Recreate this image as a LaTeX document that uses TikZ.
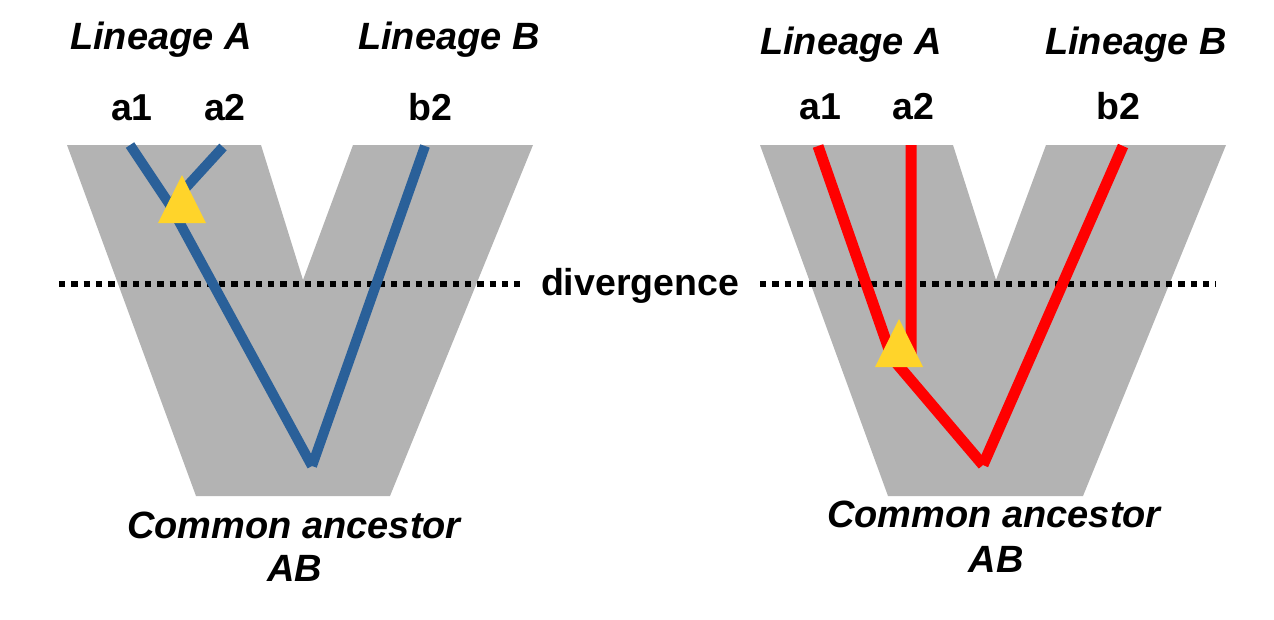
\documentclass[tikz,border=0pt]{standalone}
\usepackage{fontspec}
\setmainfont{Liberation Sans}
\usepackage{tikz}
\usepackage{xcolor}
\usetikzlibrary{calc, positioning}

\definecolor{vgray}{HTML}{B3B3B3}
\definecolor{lineblue}{HTML}{2A6099}
\definecolor{linered}{HTML}{FF0000}
\definecolor{mutyellow}{HTML}{FFD42A}

\tikzset{
    title/.style={inner sep=0pt, anchor=base, font=\fontsize{38}{42}\selectfont\bfseries\itshape},
    tip/.style={inner sep=0pt, anchor=base, font=\fontsize{37.5}{42}\selectfont\bfseries},
    branch/.style={line width=#1, line cap=butt, line join=miter},
    divline/.style={line width=5.5pt, dash pattern=on 6.3pt off 6pt}
}

\begin{document}
\begin{tikzpicture}[x=1pt, y=-1pt]
                        \useasboundingbox (0, 0) rectangle (1274, 619);

                        % left V
                        \fill[vgray] (67, 145) -- (261, 145) -- (303, 280) -- (353, 145) -- (533, 145) -- (390, 496) -- (196, 496) -- cycle;
                        % right V
                        \fill[vgray] (760, 145) -- (953, 145) -- (996, 280) -- (1046, 145) -- (1226, 145) -- (1083, 496) -- (888, 496) -- cycle;

                        % divergence line
                        \node[tip] (div) at (640, 295) {divergence};
                        \coordinate (divL1) at (59, 284);
                        \coordinate (divL2) at (526, 284);
                        \coordinate (divR1) at (760, 284);
                        \coordinate (divR2) at (1216, 284);
                        \draw[divline] (divL1) -- (divL2);
                        \draw[divline] (divR1) -- (divR2);

                        % left tree
                        \coordinate (la1) at (130, 145);
                        \coordinate (la2) at (223, 147);
                        \coordinate (lb2) at (425, 146);
                        \coordinate (ljoin) at (170, 205);
                        \coordinate (lroot) at (312, 466);
                        \draw[branch=10pt, lineblue] (la1) -- (ljoin);
                        \draw[branch=10pt, lineblue] (la2) -- (ljoin);
                        \draw[branch=10pt, lineblue] (ljoin) -- (lroot);
                        \draw[branch=10pt, lineblue] (lb2) -- (lroot);
                        \fill[mutyellow] (182, 175) -- (206, 223) -- (158, 223) -- cycle;

                        % right tree
                        \coordinate (ra1) at (818, 146);
                        \coordinate (ra2) at (911, 145);
                        \coordinate (rbend) at (911, 356);
                        \coordinate (rb2) at (1123, 146);
                        \coordinate (rjoin) at (892, 358);
                        \coordinate (rroot) at (983, 465);
                        \draw[branch=11pt, linered] (ra1) -- (rjoin);
                        \draw[branch=11pt, linered] (ra2) -- (rbend) -- (rjoin);
                        \draw[branch=11pt, linered] (rjoin) -- (rroot);
                        \draw[branch=11pt, linered] (rb2) -- (rroot);
                        \fill[mutyellow] (899, 319) -- (923, 367) -- (875, 367) -- cycle;

                        % labels
                        \node[title] (lA) at (161, 49) {Lineage A};
                        \node[title] (lB) at (449, 49) {Lineage B};
                        \node[title] (rA) at (851, 54) {Lineage A};
                        \node[title] (rB) at (1136, 54) {Lineage B};
                        \node[tip] (la1txt) at (132, 120) {a1};
                        \node[tip] (la2txt) at (225, 120) {a2};
                        \node[tip] (lb2txt) at (430, 120) {b2};
                        \node[tip] (ra1txt) at (820, 119) {a1};
                        \node[tip] (ra2txt) at (913, 119) {a2};
                        \node[tip] (rb2txt) at (1118, 119) {b2};
                        \node[title] (lanc) at (294, 538) {Common ancestor};
                        \node[title] (lAB) at (295, 581) {AB};
                        \node[title] (ranc) at (994, 527) {Common ancestor};
                        \node[title] (rAB) at (996, 572) {AB};
                    \end{tikzpicture}
\end{document}
